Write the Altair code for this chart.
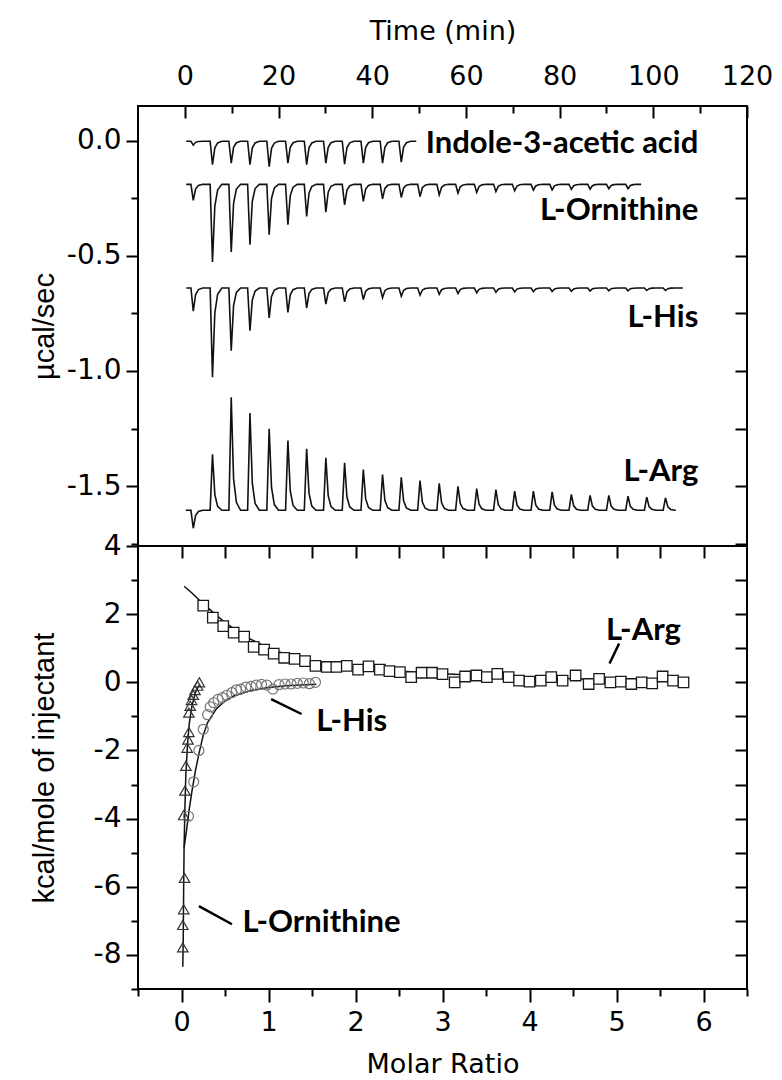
import altair as alt
import pandas as pd

# ---------------- Top panel: raw ITC thermograms ----------------
TRACE_NAMES = ["Indole-3-acetic acid", "L-Ornithine", "L-His", "L-Arg"]
TRACE_START = [0.3, 0.3, 0.3, 0.2]
TRACE_END = [49.4, 97.4, 106.3, 104.8]
TRACE_BASE = [-0.003, -0.190, -0.640, -1.605]
FIRST_INJ_T = 1.5
FIRST_INJ_PEAK = [-0.020, -0.260, -0.741, -1.683]
INJ_T = [5.6, 9.6, 13.6, 17.7, 21.7, 25.7, 29.8, 33.8, 37.8, 41.9, 45.9, 49.9, 54.0,
         58.0, 62.0, 66.1, 70.1, 74.1, 78.1, 82.2, 86.2, 90.2, 94.3, 98.3, 102.3]
IAA_PEAKS = [-0.105, -0.098, -0.105, -0.113, -0.098, -0.105, -0.098, -0.102, -0.098, -0.098, -0.094]
ORN_PEAKS = [-0.527, -0.484, -0.452, -0.409, -0.365, -0.329, -0.311, -0.279, -0.264, -0.253,
             -0.247, -0.243, -0.236, -0.228, -0.225, -0.221, -0.218, -0.215, -0.214, -0.212,
             -0.211, -0.209, -0.209]
HIS_PEAKS = [-1.027, -0.912, -0.825, -0.770, -0.746, -0.727, -0.710, -0.700, -0.690, -0.682,
             -0.676, -0.671, -0.667, -0.664, -0.661, -0.659, -0.657, -0.656, -0.655, -0.654,
             -0.653, -0.652, -0.652, -0.651, -0.651]
ARG_PEAKS = [-1.362, -1.114, -1.183, -1.251, -1.302, -1.338, -1.377, -1.399, -1.428, -1.450,
             -1.462, -1.476, -1.488, -1.501, -1.511, -1.515, -1.522, -1.522, -1.525, -1.536,
             -1.540, -1.540, -1.544, -1.548, -1.551]
TRACE_PEAKS = [IAA_PEAKS, ORN_PEAKS, HIS_PEAKS, ARG_PEAKS]
# shape of one injection peak (minutes after injection, fraction of peak height)
SPIKE_DT = [-0.2, 0.3, 0.8, 1.4, 2.3]
SPIKE_FRAC = [0.0, 1.0, 0.28, 0.07, 0.0]

TOP_LABEL_T = [109.6, 109.6, 109.6, 109.6]
TOP_LABEL_V = [-0.055, -0.344, -0.808, -1.48]

TIME_TICKS = [0, 10, 20, 30, 40, 50, 60, 70, 80, 90, 100, 110, 120]
TIME_LABELS = [0, 20, 40, 60, 80, 100, 120]
TOP_Y_TICKS = [0.0, -0.25, -0.5, -0.75, -1.0, -1.25, -1.5, -1.75]

# ---------------- Bottom panel: integrated heats ----------------
ARG_M = [0.25, 0.36, 0.48, 0.60, 0.72, 0.83, 0.95, 1.06, 1.18, 1.30, 1.42, 1.54, 1.67, 1.78,
         1.90, 2.03, 2.15, 2.28, 2.39, 2.51, 2.64, 2.76, 2.88, 3.00, 3.14, 3.26, 3.39, 3.51,
         3.63, 3.76, 3.88, 4.00, 4.13, 4.25, 4.38, 4.53, 4.68, 4.80, 4.93, 5.05, 5.17, 5.29,
         5.41, 5.53, 5.65, 5.77]
ARG_V = [2.25, 1.90, 1.65, 1.46, 1.34, 1.04, 0.96, 0.84, 0.72, 0.69, 0.62, 0.48, 0.45, 0.45,
         0.48, 0.37, 0.47, 0.37, 0.33, 0.30, 0.15, 0.28, 0.28, 0.24, 0.00, 0.17, 0.20, 0.15,
         0.25, 0.15, 0.05, 0.02, 0.05, 0.15, 0.05, 0.20, -0.05, 0.10, 0.00, 0.02, -0.05, 0.00,
         -0.03, 0.17, 0.05, 0.00]
ARG_FIT_M = [0.03, 0.12, 0.25, 0.50, 0.75, 1.00, 1.25, 1.50, 2.00, 2.50, 3.00, 4.00, 5.00, 5.78]
ARG_FIT_V = [2.82, 2.62, 2.30, 1.75, 1.32, 1.00, 0.78, 0.62, 0.44, 0.33, 0.25, 0.14, 0.07, 0.04]

HIS_M = [0.08, 0.14, 0.20, 0.25, 0.30, 0.33, 0.37, 0.42, 0.47, 0.52, 0.58, 0.63, 0.68, 0.74,
         0.80, 0.86, 0.92, 0.98, 1.05, 1.12, 1.19, 1.26, 1.33, 1.40, 1.47, 1.54]
HIS_V = [-3.93, -2.92, -2.00, -1.38, -0.95, -0.72, -0.60, -0.50, -0.45, -0.38, -0.30, -0.22,
         -0.20, -0.14, -0.12, -0.08, -0.06, -0.08, -0.20, -0.07, -0.05, -0.05, -0.03, -0.02,
         -0.04, 0.00]
HIS_FIT_M = [0.03, 0.06, 0.09, 0.12, 0.16, 0.20, 0.25, 0.30, 0.40, 0.50, 0.60, 0.80, 1.00, 1.20, 1.55]
HIS_FIT_V = [-4.85, -4.30, -3.70, -3.20, -2.60, -2.10, -1.55, -1.18, -0.78, -0.55, -0.40, -0.24,
             -0.15, -0.10, -0.06]

ORN_M = [0.015, 0.015, 0.025, 0.035, 0.025, 0.04, 0.05, 0.065, 0.075, 0.085, 0.085, 0.10,
         0.115, 0.135, 0.155, 0.185, 0.205]
ORN_V = [-7.78, -7.12, -6.66, -5.74, -3.90, -3.18, -2.45, -1.92, -1.68, -1.46, -0.89, -0.69,
         -0.52, -0.37, -0.23, -0.10, 0.00]
ORN_FIT_M = [0.015, 0.02, 0.025, 0.03, 0.04, 0.05, 0.07, 0.09, 0.12, 0.16, 0.21]
ORN_FIT_V = [-8.35, -7.50, -6.00, -4.80, -3.60, -2.70, -1.80, -1.20, -0.70, -0.30, -0.05]

BOT_LABELS = ["L-Arg", "L-His", "L-Ornithine"]
BOT_LABEL_M = [4.88, 1.55, 0.70]
BOT_LABEL_V = [1.24, -1.44, -7.34]
LEADER_M1 = [5.03, 1.03, 0.20]
LEADER_V1 = [1.14, -0.49, -6.57]
LEADER_M2 = [4.92, 1.38, 0.58]
LEADER_V2 = [0.55, -0.93, -7.10]

MOLAR_TICKS = [-0.5, 0, 0.5, 1, 1.5, 2, 2.5, 3, 3.5, 4, 4.5, 5, 5.5, 6, 6.5]
MOLAR_TOP_TICKS = [0, 0.5, 1, 1.5, 2, 2.5, 3, 3.5, 4, 4.5, 5, 5.5, 6]
BOT_Y_TICKS = [-9, -8, -7, -6, -5, -4, -3, -2, -1, 0, 1, 2, 3, 4]
BOT_Y_RIGHT_TICKS = [-8, -7, -6, -5, -4, -3, -2, -1, 0, 1, 2, 3]

W = 609
H_TOP = 440
H_BOT = 443
TICK_FONT = "DejaVu Sans"
HTITLE_FONT = "DejaVu Sans"
VTITLE_FONT = "Liberation Sans"
LBL_FONT = "Lato"

# ---------------- build tables ----------------
rows = []
for i, name in enumerate(TRACE_NAMES):
    base = TRACE_BASE[i]
    pts = [(TRACE_START[i], base)]
    inj = [(FIRST_INJ_T, FIRST_INJ_PEAK[i])] + list(zip(INJ_T, TRACE_PEAKS[i]))
    for t0, pk in inj:
        for dt, f in zip(SPIKE_DT, SPIKE_FRAC):
            pts.append((t0 + dt, base + f * (pk - base)))
    pts.append((TRACE_END[i], base))
    for j, (t, v) in enumerate(pts):
        rows.append({"trace": name, "t": t, "v": v, "j": j})
df_trace = pd.DataFrame(rows)
df_top_lbl = pd.DataFrame({"name": TRACE_NAMES, "t": TOP_LABEL_T, "v": TOP_LABEL_V})

df_fit = pd.concat([
    pd.DataFrame({"s": "L-Arg", "m": ARG_FIT_M, "v": ARG_FIT_V}),
    pd.DataFrame({"s": "L-His", "m": HIS_FIT_M, "v": HIS_FIT_V}),
    pd.DataFrame({"s": "L-Ornithine", "m": ORN_FIT_M, "v": ORN_FIT_V}),
], ignore_index=True)
df_fit["j"] = range(len(df_fit))
df_arg = pd.DataFrame({"m": ARG_M, "v": ARG_V})
df_his = pd.DataFrame({"m": HIS_M, "v": HIS_V})
df_orn = pd.DataFrame({"m": ORN_M, "v": ORN_V})
df_bot_lbl = pd.DataFrame({"name": BOT_LABELS, "m": BOT_LABEL_M, "v": BOT_LABEL_V})
df_lead = pd.DataFrame({"m1": LEADER_M1, "v1": LEADER_V1, "m2": LEADER_M2, "v2": LEADER_V2})

# ---------------- scales & axes ----------------
time_scale = alt.Scale(domain=[-10, 120], nice=False, zero=False)
top_y_scale = alt.Scale(domain=[-1.76, 0.15], nice=False, zero=False)
molar_scale = alt.Scale(domain=[-0.5, 6.5], nice=False, zero=False)
bot_y_scale = alt.Scale(domain=[-9, 4], nice=False, zero=False)


def minus(fmt):
    return ("(datum.value < 0 ? '-' + format(-datum.value, '%s') : format(datum.value, '%s'))"
            % (fmt, fmt))


common = dict(domain=False, grid=False, labelFlush=False, labelOverlap=False,
              tickColor="black", tickWidth=2, labelColor="black", titleColor="black",
              labelFont=TICK_FONT, titleFontWeight="normal")
htitle = dict(titleFont=HTITLE_FONT, titleFontSize=27, titleBaseline="middle")
vtitle = dict(titleFont=VTITLE_FONT, titleFontSize=29, titleBaseline="middle")

ax_time = alt.Axis(orient="top", values=TIME_LABELS, ticks=False, tickSize=0, labelFontSize=27,
                   labelPadding=16, title="Time (min)", titleY=-75, **htitle, **common)
ax_time_in = alt.Axis(orient="bottom", offset=-H_TOP, values=TIME_TICKS, labels=False,
                      tickSize={"condition": {"test": "datum.value % 20 === 0", "value": 12},
                                "value": 7},
                      title=None, **common)
top_major = "abs(datum.value*2 - round(datum.value*2)) < 0.001"
ax_top_left = alt.Axis(orient="left", values=TOP_Y_TICKS, labelFontSize=28,
                       tickSize={"condition": {"test": top_major, "value": 12}, "value": 7},
                       labelExpr="%s ? %s : ''" % (top_major, minus(".1f")),
                       labelPadding=5, title="µcal/sec", titleX=-94, **vtitle, **common)
ax_top_right = alt.Axis(orient="left", offset=-W, values=TOP_Y_TICKS[1:], labels=False,
                        tickSize=12, title=None, **common)

ax_molar = alt.Axis(orient="bottom", values=MOLAR_TICKS, labelFontSize=27,
                    tickSize={"condition": {"test": "abs(datum.value % 1) < 0.001", "value": 13},
                              "value": 7},
                    labelExpr="abs(datum.value % 1) < 0.001 ? format(datum.value, 'd') : ''",
                    labelPadding=7, title="Molar Ratio", titleY=75, **htitle, **common)
ax_molar_in = alt.Axis(orient="bottom", offset=-H_BOT, values=MOLAR_TOP_TICKS, labels=False,
                       tickSize=12, title=None, **common)
bot_major = "abs(datum.value % 2) < 0.001"
ax_bot_left = alt.Axis(orient="left", values=BOT_Y_TICKS, labelFontSize=28,
                       tickSize={"condition": {"test": bot_major, "value": 12}, "value": 7},
                       labelExpr="%s ? %s : ''" % (bot_major, minus("d")),
                       labelPadding=5, title="kcal/mole of injectant", titleX=-94,
                       **vtitle, **common)
ax_bot_right = alt.Axis(orient="left", offset=-W, values=BOT_Y_RIGHT_TICKS, labels=False,
                        tickSize=12, title=None, **common)

# ---------------- top panel ----------------
top_lines = alt.Chart(df_trace).mark_line(strokeWidth=1.6, color="#111111").encode(
    x=alt.X("t:Q", scale=time_scale, axis=ax_time),
    y=alt.Y("v:Q", scale=top_y_scale, axis=ax_top_left),
    detail="trace:N",
    order="j:Q",
)
top_text = alt.Chart(df_top_lbl).mark_text(
    font=LBL_FONT, fontWeight="bold", fontSize=31, align="right", baseline="alphabetic",
    color="black"
).encode(
    x=alt.X("t:Q", scale=time_scale, axis=ax_time_in),
    y=alt.Y("v:Q", scale=top_y_scale, axis=ax_top_right),
    text="name:N",
)
top = alt.layer(top_lines, top_text).resolve_axis(x="independent", y="independent").properties(
    width=W, height=H_TOP)

# ---------------- bottom panel ----------------
fit_lines = alt.Chart(df_fit).mark_line(strokeWidth=1.5, color="#111111").encode(
    x=alt.X("m:Q", scale=molar_scale, axis=ax_molar),
    y=alt.Y("v:Q", scale=bot_y_scale, axis=ax_bot_left),
    detail="s:N",
    order="j:Q",
)
squares = alt.Chart(df_arg).mark_point(
    shape="square", filled=True, fill="white", stroke="#1a1a1a", strokeWidth=1.3, size=110,
    opacity=1
).encode(
    x=alt.X("m:Q", scale=molar_scale, axis=ax_molar_in),
    y=alt.Y("v:Q", scale=bot_y_scale, axis=ax_bot_right),
)
circles = alt.Chart(df_his).mark_point(
    shape="circle", filled=False, stroke="#777777", strokeWidth=1.2, size=100, opacity=1
).encode(
    x=alt.X("m:Q", scale=molar_scale, axis=None),
    y=alt.Y("v:Q", scale=bot_y_scale, axis=None),
)
triangles = alt.Chart(df_orn).mark_point(
    shape="triangle-up", filled=False, stroke="#333333", strokeWidth=1.2, size=110, opacity=1
).encode(
    x=alt.X("m:Q", scale=molar_scale, axis=None),
    y=alt.Y("v:Q", scale=bot_y_scale, axis=None),
)
leaders = alt.Chart(df_lead).mark_rule(strokeWidth=2.5, color="black").encode(
    x=alt.X("m1:Q", scale=molar_scale, axis=None),
    y=alt.Y("v1:Q", scale=bot_y_scale, axis=None),
    x2="m2:Q",
    y2="v2:Q",
)
bot_text = alt.Chart(df_bot_lbl).mark_text(
    font=LBL_FONT, fontWeight="bold", fontSize=31, align="left", baseline="alphabetic",
    color="black"
).encode(
    x=alt.X("m:Q", scale=molar_scale, axis=None),
    y=alt.Y("v:Q", scale=bot_y_scale, axis=None),
    text="name:N",
)
bottom = alt.layer(fit_lines, squares, circles, triangles, leaders, bot_text).resolve_axis(
    x="independent", y="independent").properties(width=W, height=H_BOT)

chart = alt.vconcat(top, bottom, spacing=0, bounds="flush").properties(
    padding={"left": 21, "top": 8, "right": 0, "bottom": 0},
    background="white",
).configure_view(stroke="black", strokeWidth=2)

chart.save("out.html", embed_options={"renderer": "svg", "actions": False})
